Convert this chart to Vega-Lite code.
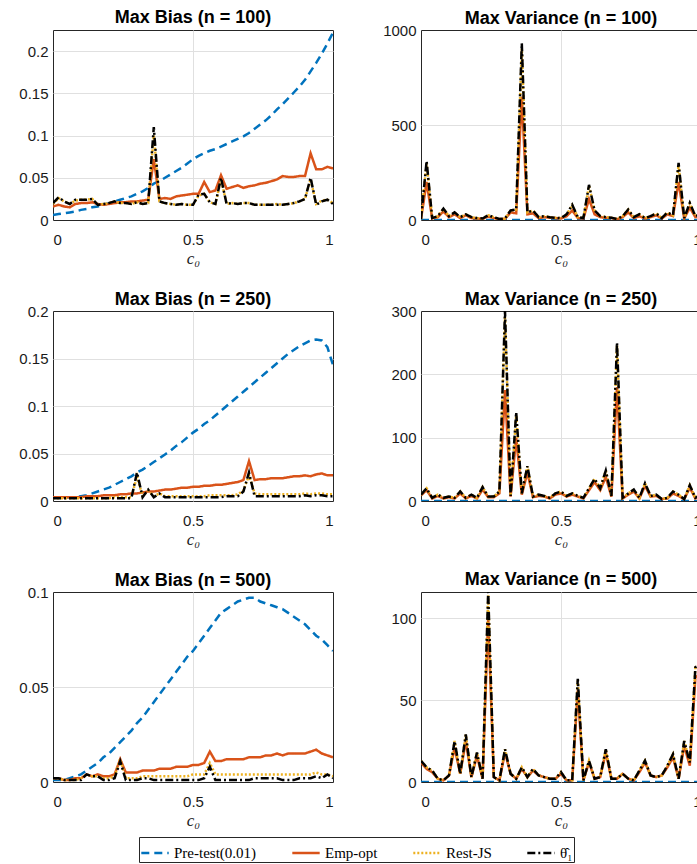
{
  "$schema": "https://vega.github.io/schema/vega-lite/v6.json",
  "padding": {"left": 18, "top": 8, "right": 0, "bottom": 0},
  "data": {"values": [
    {"p":"b100","c":0,"P":0.006,"E":0.016,"R":0.019,"T":0.02},
    {"p":"b100","c":0.02,"P":0.007,"E":0.018,"R":0.026,"T":0.027},
    {"p":"b100","c":0.04,"P":0.008,"E":0.016,"R":0.022,"T":0.022},
    {"p":"b100","c":0.06,"P":0.009,"E":0.015,"R":0.019,"T":0.019},
    {"p":"b100","c":0.08,"P":0.01,"E":0.019,"R":0.023,"T":0.024},
    {"p":"b100","c":0.1,"P":0.012,"E":0.02,"R":0.024,"T":0.024},
    {"p":"b100","c":0.12,"P":0.013,"E":0.02,"R":0.024,"T":0.024},
    {"p":"b100","c":0.14,"P":0.015,"E":0.021,"R":0.025,"T":0.025},
    {"p":"b100","c":0.16,"P":0.016,"E":0.019,"R":0.018,"T":0.018},
    {"p":"b100","c":0.18,"P":0.018,"E":0.018,"R":0.019,"T":0.019},
    {"p":"b100","c":0.2,"P":0.02,"E":0.019,"R":0.02,"T":0.02},
    {"p":"b100","c":0.22,"P":0.022,"E":0.02,"R":0.022,"T":0.022},
    {"p":"b100","c":0.24,"P":0.024,"E":0.021,"R":0.02,"T":0.02},
    {"p":"b100","c":0.26,"P":0.026,"E":0.021,"R":0.02,"T":0.02},
    {"p":"b100","c":0.28,"P":0.028,"E":0.022,"R":0.019,"T":0.019},
    {"p":"b100","c":0.3,"P":0.031,"E":0.022,"R":0.021,"T":0.021},
    {"p":"b100","c":0.32,"P":0.034,"E":0.023,"R":0.019,"T":0.019},
    {"p":"b100","c":0.34,"P":0.038,"E":0.024,"R":0.02,"T":0.02},
    {"p":"b100","c":0.36,"P":0.043,"E":0.072,"R":0.1,"T":0.11},
    {"p":"b100","c":0.38,"P":0.046,"E":0.025,"R":0.022,"T":0.022},
    {"p":"b100","c":0.4,"P":0.05,"E":0.026,"R":0.02,"T":0.02},
    {"p":"b100","c":0.42,"P":0.054,"E":0.025,"R":0.019,"T":0.019},
    {"p":"b100","c":0.44,"P":0.058,"E":0.028,"R":0.018,"T":0.018},
    {"p":"b100","c":0.46,"P":0.062,"E":0.029,"R":0.019,"T":0.019},
    {"p":"b100","c":0.48,"P":0.067,"E":0.03,"R":0.018,"T":0.018},
    {"p":"b100","c":0.5,"P":0.072,"E":0.031,"R":0.018,"T":0.018},
    {"p":"b100","c":0.52,"P":0.076,"E":0.031,"R":0.029,"T":0.03},
    {"p":"b100","c":0.54,"P":0.079,"E":0.045,"R":0.031,"T":0.031},
    {"p":"b100","c":0.56,"P":0.082,"E":0.033,"R":0.021,"T":0.021},
    {"p":"b100","c":0.58,"P":0.084,"E":0.035,"R":0.019,"T":0.019},
    {"p":"b100","c":0.6,"P":0.087,"E":0.053,"R":0.048,"T":0.05},
    {"p":"b100","c":0.62,"P":0.09,"E":0.037,"R":0.019,"T":0.019},
    {"p":"b100","c":0.64,"P":0.093,"E":0.039,"R":0.02,"T":0.02},
    {"p":"b100","c":0.66,"P":0.096,"E":0.041,"R":0.019,"T":0.019},
    {"p":"b100","c":0.68,"P":0.099,"E":0.038,"R":0.02,"T":0.02},
    {"p":"b100","c":0.7,"P":0.103,"E":0.04,"R":0.02,"T":0.02},
    {"p":"b100","c":0.72,"P":0.108,"E":0.041,"R":0.018,"T":0.018},
    {"p":"b100","c":0.74,"P":0.113,"E":0.043,"R":0.018,"T":0.018},
    {"p":"b100","c":0.76,"P":0.118,"E":0.044,"R":0.018,"T":0.018},
    {"p":"b100","c":0.78,"P":0.124,"E":0.046,"R":0.018,"T":0.018},
    {"p":"b100","c":0.8,"P":0.131,"E":0.048,"R":0.019,"T":0.018},
    {"p":"b100","c":0.82,"P":0.137,"E":0.052,"R":0.018,"T":0.018},
    {"p":"b100","c":0.84,"P":0.144,"E":0.051,"R":0.019,"T":0.019},
    {"p":"b100","c":0.86,"P":0.151,"E":0.051,"R":0.02,"T":0.02},
    {"p":"b100","c":0.88,"P":0.158,"E":0.052,"R":0.022,"T":0.022},
    {"p":"b100","c":0.9,"P":0.166,"E":0.052,"R":0.025,"T":0.025},
    {"p":"b100","c":0.92,"P":0.176,"E":0.079,"R":0.048,"T":0.05},
    {"p":"b100","c":0.94,"P":0.186,"E":0.06,"R":0.019,"T":0.018},
    {"p":"b100","c":0.96,"P":0.197,"E":0.06,"R":0.023,"T":0.022},
    {"p":"b100","c":0.98,"P":0.209,"E":0.063,"R":0.024,"T":0.024},
    {"p":"b100","c":1,"P":0.222,"E":0.061,"R":0.02,"T":0.019},

    {"p":"v100","c":0,"P":0,"E":5,"R":5,"T":5},
    {"p":"v100","c":0.02,"P":0,"E":200,"R":300,"T":310},
    {"p":"v100","c":0.04,"P":0,"E":8,"R":10,"T":10},
    {"p":"v100","c":0.06,"P":0,"E":15,"R":20,"T":20},
    {"p":"v100","c":0.08,"P":0,"E":45,"R":58,"T":60},
    {"p":"v100","c":0.1,"P":0,"E":15,"R":20,"T":20},
    {"p":"v100","c":0.12,"P":0,"E":30,"R":40,"T":40},
    {"p":"v100","c":0.14,"P":0,"E":10,"R":15,"T":15},
    {"p":"v100","c":0.16,"P":0,"E":25,"R":30,"T":30},
    {"p":"v100","c":0.18,"P":0,"E":10,"R":15,"T":15},
    {"p":"v100","c":0.2,"P":0,"E":8,"R":10,"T":10},
    {"p":"v100","c":0.22,"P":0,"E":6,"R":8,"T":8},
    {"p":"v100","c":0.24,"P":0,"E":18,"R":25,"T":25},
    {"p":"v100","c":0.26,"P":0,"E":10,"R":15,"T":15},
    {"p":"v100","c":0.28,"P":0,"E":4,"R":5,"T":5},
    {"p":"v100","c":0.3,"P":0,"E":6,"R":8,"T":8},
    {"p":"v100","c":0.32,"P":0,"E":40,"R":50,"T":50},
    {"p":"v100","c":0.34,"P":0,"E":35,"R":55,"T":55},
    {"p":"v100","c":0.36,"P":0,"E":650,"R":900,"T":930},
    {"p":"v100","c":0.38,"P":0,"E":30,"R":40,"T":40},
    {"p":"v100","c":0.4,"P":0,"E":35,"R":50,"T":50},
    {"p":"v100","c":0.42,"P":0,"E":10,"R":15,"T":15},
    {"p":"v100","c":0.44,"P":0,"E":15,"R":20,"T":20},
    {"p":"v100","c":0.46,"P":0,"E":12,"R":15,"T":15},
    {"p":"v100","c":0.48,"P":0,"E":10,"R":12,"T":12},
    {"p":"v100","c":0.5,"P":0,"E":8,"R":10,"T":10},
    {"p":"v100","c":0.52,"P":0,"E":20,"R":30,"T":30},
    {"p":"v100","c":0.54,"P":0,"E":50,"R":78,"T":80},
    {"p":"v100","c":0.56,"P":0,"E":10,"R":15,"T":15},
    {"p":"v100","c":0.58,"P":0,"E":8,"R":10,"T":10},
    {"p":"v100","c":0.6,"P":0,"E":110,"R":180,"T":185},
    {"p":"v100","c":0.62,"P":0,"E":30,"R":50,"T":50},
    {"p":"v100","c":0.64,"P":0,"E":15,"R":20,"T":20},
    {"p":"v100","c":0.66,"P":0,"E":12,"R":15,"T":15},
    {"p":"v100","c":0.68,"P":0,"E":10,"R":12,"T":12},
    {"p":"v100","c":0.7,"P":0,"E":4,"R":5,"T":5},
    {"p":"v100","c":0.72,"P":0,"E":15,"R":20,"T":20},
    {"p":"v100","c":0.74,"P":0,"E":40,"R":55,"T":55},
    {"p":"v100","c":0.76,"P":0,"E":10,"R":15,"T":15},
    {"p":"v100","c":0.78,"P":0,"E":20,"R":30,"T":30},
    {"p":"v100","c":0.8,"P":0,"E":8,"R":10,"T":10},
    {"p":"v100","c":0.82,"P":0,"E":15,"R":20,"T":20},
    {"p":"v100","c":0.84,"P":0,"E":25,"R":35,"T":35},
    {"p":"v100","c":0.86,"P":0,"E":8,"R":10,"T":10},
    {"p":"v100","c":0.88,"P":0,"E":30,"R":40,"T":40},
    {"p":"v100","c":0.9,"P":0,"E":20,"R":25,"T":25},
    {"p":"v100","c":0.92,"P":0,"E":200,"R":290,"T":300},
    {"p":"v100","c":0.94,"P":0,"E":8,"R":10,"T":10},
    {"p":"v100","c":0.96,"P":0,"E":65,"R":88,"T":90},
    {"p":"v100","c":0.98,"P":0,"E":15,"R":20,"T":20},
    {"p":"v100","c":1,"P":0,"E":20,"R":30,"T":30},

    {"p":"b250","c":0,"P":0.004,"E":0.004,"R":0.003,"T":0.003},
    {"p":"b250","c":0.02,"P":0.004,"E":0.004,"R":0.003,"T":0.003},
    {"p":"b250","c":0.04,"P":0.004,"E":0.004,"R":0.003,"T":0.003},
    {"p":"b250","c":0.06,"P":0.004,"E":0.004,"R":0.003,"T":0.003},
    {"p":"b250","c":0.08,"P":0.004,"E":0.004,"R":0.003,"T":0.003},
    {"p":"b250","c":0.1,"P":0.005,"E":0.004,"R":0.003,"T":0.003},
    {"p":"b250","c":0.12,"P":0.006,"E":0.005,"R":0.003,"T":0.003},
    {"p":"b250","c":0.14,"P":0.008,"E":0.005,"R":0.003,"T":0.003},
    {"p":"b250","c":0.16,"P":0.01,"E":0.005,"R":0.003,"T":0.003},
    {"p":"b250","c":0.18,"P":0.012,"E":0.006,"R":0.003,"T":0.003},
    {"p":"b250","c":0.2,"P":0.014,"E":0.006,"R":0.003,"T":0.003},
    {"p":"b250","c":0.22,"P":0.017,"E":0.006,"R":0.004,"T":0.003},
    {"p":"b250","c":0.24,"P":0.02,"E":0.007,"R":0.004,"T":0.003},
    {"p":"b250","c":0.26,"P":0.023,"E":0.007,"R":0.004,"T":0.003},
    {"p":"b250","c":0.28,"P":0.026,"E":0.008,"R":0.004,"T":0.003},
    {"p":"b250","c":0.3,"P":0.03,"E":0.008,"R":0.026,"T":0.03},
    {"p":"b250","c":0.32,"P":0.033,"E":0.009,"R":0.005,"T":0.004},
    {"p":"b250","c":0.34,"P":0.037,"E":0.01,"R":0.011,"T":0.012},
    {"p":"b250","c":0.36,"P":0.041,"E":0.01,"R":0.005,"T":0.004},
    {"p":"b250","c":0.38,"P":0.045,"E":0.011,"R":0.008,"T":0.008},
    {"p":"b250","c":0.4,"P":0.049,"E":0.012,"R":0.005,"T":0.004},
    {"p":"b250","c":0.42,"P":0.053,"E":0.012,"R":0.005,"T":0.004},
    {"p":"b250","c":0.44,"P":0.058,"E":0.013,"R":0.005,"T":0.004},
    {"p":"b250","c":0.46,"P":0.062,"E":0.014,"R":0.005,"T":0.004},
    {"p":"b250","c":0.48,"P":0.067,"E":0.014,"R":0.005,"T":0.004},
    {"p":"b250","c":0.5,"P":0.072,"E":0.015,"R":0.005,"T":0.004},
    {"p":"b250","c":0.52,"P":0.076,"E":0.015,"R":0.005,"T":0.004},
    {"p":"b250","c":0.54,"P":0.081,"E":0.016,"R":0.005,"T":0.004},
    {"p":"b250","c":0.56,"P":0.085,"E":0.016,"R":0.006,"T":0.004},
    {"p":"b250","c":0.58,"P":0.09,"E":0.017,"R":0.006,"T":0.004},
    {"p":"b250","c":0.6,"P":0.095,"E":0.017,"R":0.006,"T":0.004},
    {"p":"b250","c":0.62,"P":0.1,"E":0.018,"R":0.006,"T":0.005},
    {"p":"b250","c":0.64,"P":0.105,"E":0.019,"R":0.006,"T":0.005},
    {"p":"b250","c":0.66,"P":0.11,"E":0.02,"R":0.007,"T":0.005},
    {"p":"b250","c":0.68,"P":0.115,"E":0.022,"R":0.011,"T":0.01},
    {"p":"b250","c":0.7,"P":0.12,"E":0.042,"R":0.027,"T":0.03},
    {"p":"b250","c":0.72,"P":0.125,"E":0.022,"R":0.008,"T":0.005},
    {"p":"b250","c":0.74,"P":0.13,"E":0.023,"R":0.007,"T":0.005},
    {"p":"b250","c":0.76,"P":0.135,"E":0.023,"R":0.007,"T":0.005},
    {"p":"b250","c":0.78,"P":0.14,"E":0.024,"R":0.007,"T":0.005},
    {"p":"b250","c":0.8,"P":0.145,"E":0.024,"R":0.007,"T":0.005},
    {"p":"b250","c":0.82,"P":0.15,"E":0.024,"R":0.007,"T":0.005},
    {"p":"b250","c":0.84,"P":0.155,"E":0.025,"R":0.007,"T":0.005},
    {"p":"b250","c":0.86,"P":0.159,"E":0.026,"R":0.007,"T":0.005},
    {"p":"b250","c":0.88,"P":0.163,"E":0.026,"R":0.007,"T":0.005},
    {"p":"b250","c":0.9,"P":0.166,"E":0.027,"R":0.008,"T":0.006},
    {"p":"b250","c":0.92,"P":0.169,"E":0.026,"R":0.007,"T":0.005},
    {"p":"b250","c":0.94,"P":0.17,"E":0.028,"R":0.008,"T":0.006},
    {"p":"b250","c":0.96,"P":0.169,"E":0.029,"R":0.008,"T":0.006},
    {"p":"b250","c":0.98,"P":0.162,"E":0.027,"R":0.007,"T":0.005},
    {"p":"b250","c":1,"P":0.143,"E":0.027,"R":0.007,"T":0.005},

    {"p":"v250","c":0,"P":0,"E":9,"R":10,"T":10},
    {"p":"v250","c":0.02,"P":0,"E":17,"R":20,"T":20},
    {"p":"v250","c":0.04,"P":0,"E":4,"R":5,"T":5},
    {"p":"v250","c":0.06,"P":0,"E":8,"R":10,"T":10},
    {"p":"v250","c":0.08,"P":0,"E":4,"R":5,"T":5},
    {"p":"v250","c":0.1,"P":0,"E":6,"R":7,"T":7},
    {"p":"v250","c":0.12,"P":0,"E":4,"R":5,"T":5},
    {"p":"v250","c":0.14,"P":0,"E":12,"R":15,"T":15},
    {"p":"v250","c":0.16,"P":0,"E":4,"R":5,"T":5},
    {"p":"v250","c":0.18,"P":0,"E":8,"R":10,"T":10},
    {"p":"v250","c":0.2,"P":0,"E":4,"R":5,"T":5},
    {"p":"v250","c":0.22,"P":0,"E":18,"R":22,"T":22},
    {"p":"v250","c":0.24,"P":0,"E":6,"R":7,"T":7},
    {"p":"v250","c":0.26,"P":0,"E":6,"R":7,"T":7},
    {"p":"v250","c":0.28,"P":0,"E":12,"R":15,"T":15},
    {"p":"v250","c":0.3,"P":0,"E":175,"R":290,"T":300},
    {"p":"v250","c":0.32,"P":0,"E":7,"R":8,"T":8},
    {"p":"v250","c":0.34,"P":0,"E":100,"R":135,"T":140},
    {"p":"v250","c":0.36,"P":0,"E":10,"R":12,"T":12},
    {"p":"v250","c":0.38,"P":0,"E":45,"R":55,"T":55},
    {"p":"v250","c":0.4,"P":0,"E":6,"R":7,"T":7},
    {"p":"v250","c":0.42,"P":0,"E":8,"R":10,"T":10},
    {"p":"v250","c":0.44,"P":0,"E":7,"R":8,"T":8},
    {"p":"v250","c":0.46,"P":0,"E":4,"R":5,"T":5},
    {"p":"v250","c":0.48,"P":0,"E":10,"R":12,"T":12},
    {"p":"v250","c":0.5,"P":0,"E":12,"R":15,"T":15},
    {"p":"v250","c":0.52,"P":0,"E":7,"R":8,"T":8},
    {"p":"v250","c":0.54,"P":0,"E":10,"R":12,"T":12},
    {"p":"v250","c":0.56,"P":0,"E":7,"R":8,"T":8},
    {"p":"v250","c":0.58,"P":0,"E":4,"R":5,"T":5},
    {"p":"v250","c":0.6,"P":0,"E":17,"R":20,"T":20},
    {"p":"v250","c":0.62,"P":0,"E":30,"R":35,"T":35},
    {"p":"v250","c":0.64,"P":0,"E":17,"R":20,"T":20},
    {"p":"v250","c":0.66,"P":0,"E":38,"R":48,"T":48},
    {"p":"v250","c":0.68,"P":0,"E":7,"R":8,"T":8},
    {"p":"v250","c":0.7,"P":0,"E":180,"R":245,"T":250},
    {"p":"v250","c":0.72,"P":0,"E":4,"R":5,"T":5},
    {"p":"v250","c":0.74,"P":0,"E":10,"R":12,"T":12},
    {"p":"v250","c":0.76,"P":0,"E":15,"R":18,"T":18},
    {"p":"v250","c":0.78,"P":0,"E":4,"R":5,"T":5},
    {"p":"v250","c":0.8,"P":0,"E":24,"R":28,"T":28},
    {"p":"v250","c":0.82,"P":0,"E":7,"R":8,"T":8},
    {"p":"v250","c":0.84,"P":0,"E":8,"R":10,"T":10},
    {"p":"v250","c":0.86,"P":0,"E":3,"R":3,"T":3},
    {"p":"v250","c":0.88,"P":0,"E":4,"R":5,"T":5},
    {"p":"v250","c":0.9,"P":0,"E":12,"R":15,"T":15},
    {"p":"v250","c":0.92,"P":0,"E":8,"R":10,"T":10},
    {"p":"v250","c":0.94,"P":0,"E":3,"R":3,"T":3},
    {"p":"v250","c":0.96,"P":0,"E":21,"R":25,"T":25},
    {"p":"v250","c":0.98,"P":0,"E":4,"R":5,"T":5},
    {"p":"v250","c":1,"P":0,"E":8,"R":10,"T":10},

    {"p":"b500","c":0,"P":0.001,"E":0.002,"R":0.002,"T":0.002},
    {"p":"b500","c":0.02,"P":0.001,"E":0.002,"R":0.002,"T":0.002},
    {"p":"b500","c":0.04,"P":0.001,"E":0.001,"R":0.001,"T":0.001},
    {"p":"b500","c":0.06,"P":0.002,"E":0.001,"R":0.001,"T":0.001},
    {"p":"b500","c":0.08,"P":0.003,"E":0.002,"R":0.001,"T":0.001},
    {"p":"b500","c":0.1,"P":0.004,"E":0.002,"R":0.002,"T":0.001},
    {"p":"b500","c":0.12,"P":0.006,"E":0.004,"R":0.004,"T":0.004},
    {"p":"b500","c":0.14,"P":0.008,"E":0.003,"R":0.003,"T":0.003},
    {"p":"b500","c":0.16,"P":0.01,"E":0.004,"R":0.003,"T":0.003},
    {"p":"b500","c":0.18,"P":0.013,"E":0.003,"R":0.002,"T":0.001},
    {"p":"b500","c":0.2,"P":0.015,"E":0.003,"R":0.002,"T":0.001},
    {"p":"b500","c":0.22,"P":0.018,"E":0.004,"R":0.003,"T":0.002},
    {"p":"b500","c":0.24,"P":0.021,"E":0.012,"R":0.012,"T":0.011},
    {"p":"b500","c":0.26,"P":0.024,"E":0.005,"R":0.002,"T":0.001},
    {"p":"b500","c":0.28,"P":0.027,"E":0.005,"R":0.002,"T":0.001},
    {"p":"b500","c":0.3,"P":0.031,"E":0.005,"R":0.002,"T":0.001},
    {"p":"b500","c":0.32,"P":0.034,"E":0.006,"R":0.003,"T":0.002},
    {"p":"b500","c":0.34,"P":0.038,"E":0.006,"R":0.003,"T":0.002},
    {"p":"b500","c":0.36,"P":0.042,"E":0.006,"R":0.003,"T":0.001},
    {"p":"b500","c":0.38,"P":0.046,"E":0.007,"R":0.003,"T":0.001},
    {"p":"b500","c":0.4,"P":0.05,"E":0.007,"R":0.003,"T":0.001},
    {"p":"b500","c":0.42,"P":0.054,"E":0.007,"R":0.003,"T":0.001},
    {"p":"b500","c":0.44,"P":0.058,"E":0.008,"R":0.003,"T":0.001},
    {"p":"b500","c":0.46,"P":0.062,"E":0.008,"R":0.003,"T":0.001},
    {"p":"b500","c":0.48,"P":0.066,"E":0.008,"R":0.003,"T":0.001},
    {"p":"b500","c":0.5,"P":0.069,"E":0.009,"R":0.004,"T":0.001},
    {"p":"b500","c":0.52,"P":0.073,"E":0.009,"R":0.004,"T":0.001},
    {"p":"b500","c":0.54,"P":0.077,"E":0.01,"R":0.004,"T":0.002},
    {"p":"b500","c":0.56,"P":0.081,"E":0.016,"R":0.01,"T":0.008},
    {"p":"b500","c":0.58,"P":0.085,"E":0.011,"R":0.004,"T":0.001},
    {"p":"b500","c":0.6,"P":0.089,"E":0.011,"R":0.004,"T":0.001},
    {"p":"b500","c":0.62,"P":0.091,"E":0.012,"R":0.004,"T":0.001},
    {"p":"b500","c":0.64,"P":0.093,"E":0.012,"R":0.004,"T":0.001},
    {"p":"b500","c":0.66,"P":0.095,"E":0.012,"R":0.004,"T":0.001},
    {"p":"b500","c":0.68,"P":0.096,"E":0.012,"R":0.004,"T":0.001},
    {"p":"b500","c":0.7,"P":0.097,"E":0.013,"R":0.004,"T":0.001},
    {"p":"b500","c":0.72,"P":0.097,"E":0.013,"R":0.004,"T":0.002},
    {"p":"b500","c":0.74,"P":0.095,"E":0.013,"R":0.004,"T":0.002},
    {"p":"b500","c":0.76,"P":0.094,"E":0.014,"R":0.004,"T":0.002},
    {"p":"b500","c":0.78,"P":0.093,"E":0.014,"R":0.004,"T":0.002},
    {"p":"b500","c":0.8,"P":0.092,"E":0.015,"R":0.004,"T":0.002},
    {"p":"b500","c":0.82,"P":0.091,"E":0.014,"R":0.004,"T":0.001},
    {"p":"b500","c":0.84,"P":0.089,"E":0.015,"R":0.004,"T":0.001},
    {"p":"b500","c":0.86,"P":0.087,"E":0.015,"R":0.004,"T":0.001},
    {"p":"b500","c":0.88,"P":0.085,"E":0.015,"R":0.004,"T":0.002},
    {"p":"b500","c":0.9,"P":0.083,"E":0.015,"R":0.004,"T":0.002},
    {"p":"b500","c":0.92,"P":0.08,"E":0.016,"R":0.004,"T":0.002},
    {"p":"b500","c":0.94,"P":0.077,"E":0.017,"R":0.005,"T":0.003},
    {"p":"b500","c":0.96,"P":0.075,"E":0.015,"R":0.004,"T":0.002},
    {"p":"b500","c":0.98,"P":0.072,"E":0.014,"R":0.004,"T":0.004},
    {"p":"b500","c":1,"P":0.069,"E":0.013,"R":0.003,"T":0.002},

    {"p":"v500","c":0,"P":0,"E":12,"R":13,"T":13},
    {"p":"v500","c":0.02,"P":0,"E":8,"R":9,"T":9},
    {"p":"v500","c":0.04,"P":0,"E":6,"R":7,"T":7},
    {"p":"v500","c":0.06,"P":0,"E":2,"R":2,"T":2},
    {"p":"v500","c":0.08,"P":0,"E":1,"R":1,"T":1},
    {"p":"v500","c":0.1,"P":0,"E":4,"R":4,"T":4},
    {"p":"v500","c":0.12,"P":0,"E":21,"R":25,"T":25},
    {"p":"v500","c":0.14,"P":0,"E":5,"R":5,"T":5},
    {"p":"v500","c":0.16,"P":0,"E":25,"R":29,"T":29},
    {"p":"v500","c":0.18,"P":0,"E":3,"R":3,"T":3},
    {"p":"v500","c":0.2,"P":0,"E":16,"R":18,"T":18},
    {"p":"v500","c":0.22,"P":0,"E":2,"R":2,"T":2},
    {"p":"v500","c":0.24,"P":0,"E":100,"R":114,"T":116},
    {"p":"v500","c":0.26,"P":0,"E":3,"R":3,"T":3},
    {"p":"v500","c":0.28,"P":0,"E":1,"R":1,"T":1},
    {"p":"v500","c":0.3,"P":0,"E":18,"R":20,"T":20},
    {"p":"v500","c":0.32,"P":0,"E":5,"R":5,"T":5},
    {"p":"v500","c":0.34,"P":0,"E":2,"R":2,"T":2},
    {"p":"v500","c":0.36,"P":0,"E":8,"R":9,"T":9},
    {"p":"v500","c":0.38,"P":0,"E":3,"R":3,"T":3},
    {"p":"v500","c":0.4,"P":0,"E":7,"R":8,"T":8},
    {"p":"v500","c":0.42,"P":0,"E":4,"R":4,"T":4},
    {"p":"v500","c":0.44,"P":0,"E":3,"R":3,"T":3},
    {"p":"v500","c":0.46,"P":0,"E":2,"R":2,"T":2},
    {"p":"v500","c":0.48,"P":0,"E":2,"R":2,"T":2},
    {"p":"v500","c":0.5,"P":0,"E":5,"R":6,"T":6},
    {"p":"v500","c":0.52,"P":0,"E":1,"R":1,"T":1},
    {"p":"v500","c":0.54,"P":0,"E":1,"R":1,"T":1},
    {"p":"v500","c":0.56,"P":0,"E":56,"R":62,"T":63},
    {"p":"v500","c":0.58,"P":0,"E":1,"R":1,"T":1},
    {"p":"v500","c":0.6,"P":0,"E":12,"R":13,"T":13},
    {"p":"v500","c":0.62,"P":0,"E":2,"R":2,"T":2},
    {"p":"v500","c":0.64,"P":0,"E":3,"R":3,"T":3},
    {"p":"v500","c":0.66,"P":0,"E":18,"R":20,"T":20},
    {"p":"v500","c":0.68,"P":0,"E":2,"R":2,"T":2},
    {"p":"v500","c":0.7,"P":0,"E":2,"R":2,"T":2},
    {"p":"v500","c":0.72,"P":0,"E":5,"R":5,"T":5},
    {"p":"v500","c":0.74,"P":0,"E":2,"R":2,"T":2},
    {"p":"v500","c":0.76,"P":0,"E":1,"R":1,"T":1},
    {"p":"v500","c":0.78,"P":0,"E":6,"R":7,"T":7},
    {"p":"v500","c":0.8,"P":0,"E":12,"R":13,"T":13},
    {"p":"v500","c":0.82,"P":0,"E":4,"R":4,"T":4},
    {"p":"v500","c":0.84,"P":0,"E":3,"R":3,"T":3},
    {"p":"v500","c":0.86,"P":0,"E":4,"R":4,"T":4},
    {"p":"v500","c":0.88,"P":0,"E":9,"R":10,"T":10},
    {"p":"v500","c":0.9,"P":0,"E":15,"R":17,"T":17},
    {"p":"v500","c":0.92,"P":0,"E":2,"R":2,"T":2},
    {"p":"v500","c":0.94,"P":0,"E":22,"R":25,"T":25},
    {"p":"v500","c":0.96,"P":0,"E":10,"R":12,"T":12},
    {"p":"v500","c":0.98,"P":0,"E":64,"R":70,"T":70},
    {"p":"v500","c":1,"P":0,"E":66,"R":72,"T":72}
  ]},
  "columns": 2,
  "bounds": "flush",
  "spacing": {"row": 91, "column": 88},
  "concat": [
    {
      "title": {"text": "Max Bias (n = 100)", "offset": 3},
      "width": 280, "height": 190,
      "transform": [{"filter": "datum.p == 'b100'"}, {"fold": ["P", "E", "R", "T"]}],
      "mark": {"type": "line", "strokeWidth": 2.5, "clip": true},
      "encoding": {
        "x": {"field": "c", "type": "quantitative", "title": "c₀", "scale": {"domain": [0, 1]}, "axis": {"values": [0, 0.5, 1]}},
        "y": {"field": "value", "type": "quantitative", "title": null, "scale": {"domain": [0, 0.225]}, "axis": {"values": [0, 0.05, 0.1, 0.15, 0.2], "gridOpacity": {"expr": "datum.value > 0 ? 1 : 0"}}},
        "color": {"field": "key", "type": "nominal", "title": null, "scale": {"domain": ["P", "E", "R", "T"], "range": ["#0072BD", "#D95319", "#EDB120", "#000000"]}, "legend": {"labelExpr": "{'P': 'Pre-test(0.01)', 'E': 'Emp-opt', 'R': 'Rest-JS', 'T': 'θ̂₁'}[datum.label]"}},
        "strokeDash": {"field": "key", "type": "nominal", "title": null, "scale": {"domain": ["P", "E", "R", "T"], "range": [[8, 5], [1, 0], [2, 2], [8, 3, 2, 3]]}, "legend": {"labelExpr": "{'P': 'Pre-test(0.01)', 'E': 'Emp-opt', 'R': 'Rest-JS', 'T': 'θ̂₁'}[datum.label]"}}
      }
    },
    {
      "title": {"text": "Max Variance (n = 100)", "offset": -5},
      "width": 280, "height": 190,
      "transform": [{"filter": "datum.p == 'v100'"}, {"fold": ["P", "E", "R", "T"]}],
      "mark": {"type": "line", "strokeWidth": 2.5, "clip": true},
      "encoding": {
        "x": {"field": "c", "type": "quantitative", "title": "c₀", "scale": {"domain": [0, 1]}, "axis": {"values": [0, 0.5, 1]}},
        "y": {"field": "value", "type": "quantitative", "title": null, "scale": {"domain": [0, 1000]}, "axis": {"values": [0, 500, 1000], "gridOpacity": {"expr": "datum.value > 0 && datum.value < 1000 ? 1 : 0"}}},
        "color": {"field": "key", "type": "nominal", "title": null, "scale": {"domain": ["P", "E", "R", "T"], "range": ["#0072BD", "#D95319", "#EDB120", "#000000"]}},
        "strokeDash": {"field": "key", "type": "nominal", "title": null, "scale": {"domain": ["P", "E", "R", "T"], "range": [[8, 5], [1, 0], [2, 2], [8, 3, 2, 3]]}}
      }
    },
    {
      "title": {"text": "Max Bias (n = 250)", "offset": -5},
      "width": 280, "height": 190,
      "transform": [{"filter": "datum.p == 'b250'"}, {"fold": ["P", "E", "R", "T"]}],
      "mark": {"type": "line", "strokeWidth": 2.5, "clip": true},
      "encoding": {
        "x": {"field": "c", "type": "quantitative", "title": "c₀", "scale": {"domain": [0, 1]}, "axis": {"values": [0, 0.5, 1]}},
        "y": {"field": "value", "type": "quantitative", "title": null, "scale": {"domain": [0, 0.2]}, "axis": {"values": [0, 0.05, 0.1, 0.15, 0.2], "gridOpacity": {"expr": "datum.value > 0 && datum.value < 0.2 ? 1 : 0"}}},
        "color": {"field": "key", "type": "nominal", "title": null, "scale": {"domain": ["P", "E", "R", "T"], "range": ["#0072BD", "#D95319", "#EDB120", "#000000"]}},
        "strokeDash": {"field": "key", "type": "nominal", "title": null, "scale": {"domain": ["P", "E", "R", "T"], "range": [[8, 5], [1, 0], [2, 2], [8, 3, 2, 3]]}}
      }
    },
    {
      "title": {"text": "Max Variance (n = 250)", "offset": -5},
      "width": 280, "height": 190,
      "transform": [{"filter": "datum.p == 'v250'"}, {"fold": ["P", "E", "R", "T"]}],
      "mark": {"type": "line", "strokeWidth": 2.5, "clip": true},
      "encoding": {
        "x": {"field": "c", "type": "quantitative", "title": "c₀", "scale": {"domain": [0, 1]}, "axis": {"values": [0, 0.5, 1]}},
        "y": {"field": "value", "type": "quantitative", "title": null, "scale": {"domain": [0, 300]}, "axis": {"values": [0, 100, 200, 300], "gridOpacity": {"expr": "datum.value > 0 && datum.value < 300 ? 1 : 0"}}},
        "color": {"field": "key", "type": "nominal", "title": null, "scale": {"domain": ["P", "E", "R", "T"], "range": ["#0072BD", "#D95319", "#EDB120", "#000000"]}},
        "strokeDash": {"field": "key", "type": "nominal", "title": null, "scale": {"domain": ["P", "E", "R", "T"], "range": [[8, 5], [1, 0], [2, 2], [8, 3, 2, 3]]}}
      }
    },
    {
      "title": {"text": "Max Bias (n = 500)", "offset": -5},
      "width": 280, "height": 190,
      "transform": [{"filter": "datum.p == 'b500'"}, {"fold": ["P", "E", "R", "T"]}],
      "mark": {"type": "line", "strokeWidth": 2.5, "clip": true},
      "encoding": {
        "x": {"field": "c", "type": "quantitative", "title": "c₀", "scale": {"domain": [0, 1]}, "axis": {"values": [0, 0.5, 1]}},
        "y": {"field": "value", "type": "quantitative", "title": null, "scale": {"domain": [0, 0.1]}, "axis": {"values": [0, 0.05, 0.1], "gridOpacity": {"expr": "datum.value > 0 && datum.value < 0.1 ? 1 : 0"}}},
        "color": {"field": "key", "type": "nominal", "title": null, "scale": {"domain": ["P", "E", "R", "T"], "range": ["#0072BD", "#D95319", "#EDB120", "#000000"]}},
        "strokeDash": {"field": "key", "type": "nominal", "title": null, "scale": {"domain": ["P", "E", "R", "T"], "range": [[8, 5], [1, 0], [2, 2], [8, 3, 2, 3]]}}
      }
    },
    {
      "title": {"text": "Max Variance (n = 500)", "offset": 3},
      "width": 280, "height": 190,
      "transform": [{"filter": "datum.p == 'v500'"}, {"fold": ["P", "E", "R", "T"]}],
      "mark": {"type": "line", "strokeWidth": 2.5, "clip": true},
      "encoding": {
        "x": {"field": "c", "type": "quantitative", "title": "c₀", "scale": {"domain": [0, 1]}, "axis": {"values": [0, 0.5, 1]}},
        "y": {"field": "value", "type": "quantitative", "title": null, "scale": {"domain": [0, 116]}, "axis": {"values": [0, 50, 100], "gridOpacity": {"expr": "datum.value > 0 ? 1 : 0"}}},
        "color": {"field": "key", "type": "nominal", "title": null, "scale": {"domain": ["P", "E", "R", "T"], "range": ["#0072BD", "#D95319", "#EDB120", "#000000"]}},
        "strokeDash": {"field": "key", "type": "nominal", "title": null, "scale": {"domain": ["P", "E", "R", "T"], "range": [[8, 5], [1, 0], [2, 2], [8, 3, 2, 3]]}}
      }
    }
  ],
  "config": {
    "font": "Liberation Sans",
    "view": {"stroke": "#262626", "strokeWidth": 1},
    "title": {"fontSize": 18, "fontWeight": "bold", "color": "#000000"},
    "axis": {
      "domain": false,
      "ticks": false,
      "format": "~r",
      "labelFontSize": 15,
      "labelColor": "#1a1a1a",
      "labelPadding": 5,
      "gridColor": "#e0e0e0",
      "titleFont": "Liberation Serif",
      "titleFontStyle": "italic",
      "titleFontWeight": "normal",
      "titleFontSize": 17,
      "titleColor": "#1a1a1a",
      "titlePadding": 3
    },
    "axisX": {
      "labelPadding": 12,
      "gridOpacity": {"expr": "datum.value > 0 && datum.value < 1 ? 1 : 0"}
    },
    "legend": {
      "orient": "none",
      "legendX": 86,
      "legendY": 807,
      "direction": "horizontal",
      "symbolType": "stroke",
      "symbolStrokeWidth": 2.5,
      "symbolSize": 750,
      "labelFont": "Liberation Serif",
      "labelFontSize": 15,
      "labelColor": "#000000",
      "labelOffset": 4,
      "columnPadding": 30,
      "strokeColor": "#262626",
      "padding": 1
    }
  }
}
